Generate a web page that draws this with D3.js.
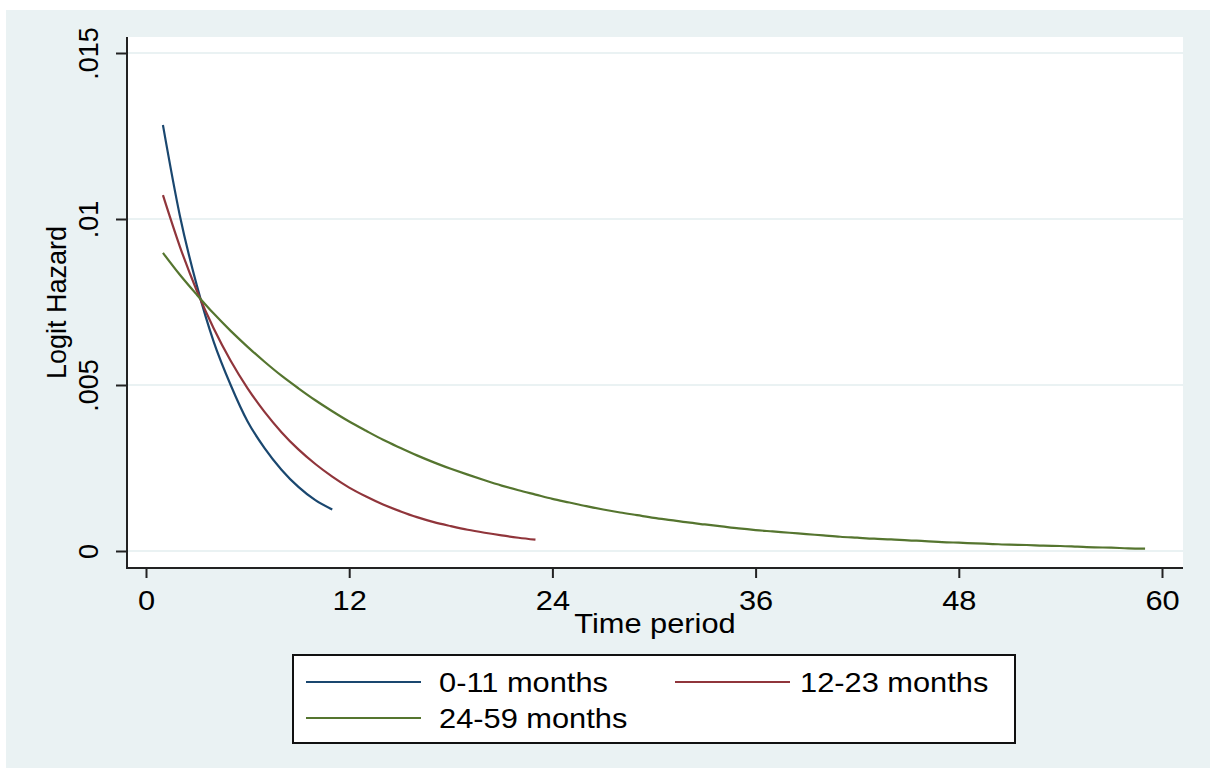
<!DOCTYPE html>
<html lang="en">
<head>
    <meta charset="utf-8" />
    <title>Logit Hazard by age group</title>
    <script src="https://d3js.org/d3.v7.min.js"></script>
    <style>
        body { margin: 0; background: #fff; }
        text { font-family: Arial, "Liberation Sans", sans-serif; fill: #000; }
        .grid line { stroke: #eaf2f3; stroke-width: 2px; }
        .tick line { stroke: #222; stroke-width: 2px; }
    </style>
</head>
<body>
    <script>
        // ---- data ----
        var xTicks = [0, 12, 24, 36, 48, 60];
        var yTicks = [0, .005, .01, .015];
        var yTickLabels = ["0", ".005", ".01", ".015"];
        var seriesNames = ["0-11 months", "12-23 months", "24-59 months"];
        var seriesColors = ["#1a476f", "#90353b", "#55752f"];

        // hazard per time period, starting at period 1
        var hazard0to11 = [0.01283, 0.0101, 0.0080, 0.0063, 0.0050, 0.0039, 0.0031, 0.00245, 0.00193, 0.00153, 0.00125];
        var hazard12to23 = [0.01072, 0.00917, 0.00784, 0.00670, 0.00573, 0.00490, 0.00419, 0.00358, 0.00306, 0.00262,
            0.00224, 0.00191, 0.00164, 0.00140, 0.00120, 0.00102, 0.00087, 0.00075, 0.00064, 0.00055,
            0.00047, 0.00040, 0.00034];
        var hazard24to59 = [0.00898, 0.00832, 0.00772, 0.00715, 0.00663, 0.00615, 0.00570, 0.00528, 0.00490, 0.00454,
            0.00421, 0.00390, 0.00362, 0.00335, 0.00311, 0.00288, 0.00267, 0.00248, 0.00230, 0.00213,
            0.00197, 0.00183, 0.00170, 0.00157, 0.00146, 0.00135, 0.00125, 0.00116, 0.00108, 0.00100,
            0.00093, 0.00086, 0.00080, 0.00074, 0.00068, 0.00063, 0.00059, 0.00055, 0.00051, 0.00047,
            0.00043, 0.00040, 0.00037, 0.00035, 0.00032, 0.00030, 0.00027, 0.00025, 0.00023, 0.00021,
            0.00019, 0.00018, 0.00016, 0.00015, 0.00013, 0.00011, 0.00010, 0.00008, 0.00007];
        var firstPeriod = 1;

        //画布
        var width = 1210, height = 770;
        var plot = { left: 127, right: 1183, top: 37, bottom: 568 };
        var stretch = 1.1; // text in the reference is a bit wider than Arial

        var svg = d3.select("body").append("svg")
            .attr("width", width)
            .attr("height", height);

        // outer graph region
        svg.append("rect")
            .attr("x", 6).attr("y", 10)
            .attr("width", width - 6).attr("height", 758)
            .attr("fill", "#eaf2f3");

        // plot region
        svg.append("rect")
            .attr("x", plot.left).attr("y", plot.top)
            .attr("width", plot.right - plot.left).attr("height", plot.bottom - plot.top)
            .attr("fill", "#fff");

        var x = d3.scaleLinear().domain([0, 60]).range([146, 1162]);
        var y = d3.scaleLinear().domain([0, .015]).range([551, 53]);

        // horizontal grid
        svg.append("g").attr("class", "grid")
            .selectAll("line")
            .data(yTicks)
            .enter().append("line")
            .attr("x1", plot.left + 1).attr("x2", plot.right)
            .attr("y1", function (d) { return y(d); })
            .attr("y2", function (d) { return y(d); });

        // series
        var allSeries = [hazard0to11, hazard12to23, hazard24to59];
        var line = d3.line()
            .x(function (d, i) { return x(i + firstPeriod); })
            .y(function (d) { return y(d); })
            .curve(d3.curveMonotoneX);

        svg.append("g")
            .selectAll("path")
            .data(allSeries)
            .enter().append("path")
            .attr("d", line)
            .attr("fill", "none")
            .attr("stroke", function (d, i) { return seriesColors[i]; })
            .attr("stroke-width", 2.2);

        // y axis
        var yAxis = d3.axisLeft(y)
            .tickValues(yTicks)
            .tickSize(11)
            .tickFormat(function (d, i) { return yTickLabels[i]; });
        var gy = svg.append("g")
            .attr("transform", "translate(" + plot.left + ",0)")
            .call(yAxis);
        gy.select(".domain").remove();
        gy.selectAll(".tick text")
            .attr("x", null).attr("dy", null)
            .attr("transform", "translate(-29,0) rotate(-90)")
            .attr("text-anchor", "middle")
            .style("font-size", "27px");

        // x axis
        var xAxis = d3.axisBottom(x)
            .tickValues(xTicks)
            .tickSize(10)
            .tickFormat(d3.format("d"));
        var gx = svg.append("g")
            .attr("transform", "translate(0," + plot.bottom + ")")
            .call(xAxis);
        gx.select(".domain").remove();
        gx.selectAll(".tick text")
            .attr("y", 42).attr("dy", null)
            .style("font-size", "28px");

        // axis lines
        svg.append("line")
            .attr("x1", plot.left).attr("x2", plot.left)
            .attr("y1", plot.top).attr("y2", plot.bottom + 1)
            .attr("stroke", "#222").attr("stroke-width", 2);
        svg.append("line")
            .attr("x1", plot.left - 1).attr("x2", plot.right)
            .attr("y1", plot.bottom).attr("y2", plot.bottom)
            .attr("stroke", "#222").attr("stroke-width", 2);

        // axis titles
        svg.append("text")
            .attr("transform", "translate(66," + ((plot.top + plot.bottom) / 2) + ") rotate(-90)")
            .attr("text-anchor", "middle")
            .style("font-size", "27px")
            .text("Logit Hazard");

        svg.append("text")
            .attr("class", "wide")
            .attr("x", (plot.left + plot.right) / 2)
            .attr("y", 633)
            .attr("text-anchor", "middle")
            .style("font-size", "28px")
            .text("Time period");

        // legend
        var legend = svg.append("g");
        legend.append("rect")
            .attr("x", 293).attr("y", 655)
            .attr("width", 722).attr("height", 88)
            .attr("fill", "#fff")
            .attr("stroke", "#111").attr("stroke-width", 2);

        var legendPos = [[306, 682], [675, 682], [306, 718]];
        var items = legend.selectAll("g.item")
            .data(seriesNames)
            .enter().append("g")
            .attr("class", "item")
            .attr("transform", function (d, i) { return "translate(" + legendPos[i][0] + "," + legendPos[i][1] + ")"; });
        items.append("line")
            .attr("x1", 0).attr("x2", 115)
            .attr("y1", 0).attr("y2", 0)
            .attr("stroke", function (d, i) { return seriesColors[i]; })
            .attr("stroke-width", 2);
        items.append("text")
            .attr("class", "wide")
            .attr("x", function (d, i) { return i === 1 ? 125 : 133; })
            .attr("y", 10)
            .style("font-size", "28px")
            .text(function (d) { return d; });

        // widen horizontal texts a little
        gx.selectAll(".tick text").classed("wide", true);
        svg.selectAll("text.wide").each(function () {
            var w = this.getComputedTextLength();
            d3.select(this)
                .attr("textLength", w * stretch)
                .attr("lengthAdjust", "spacingAndGlyphs");
        });
    </script>
</body>
</html>
